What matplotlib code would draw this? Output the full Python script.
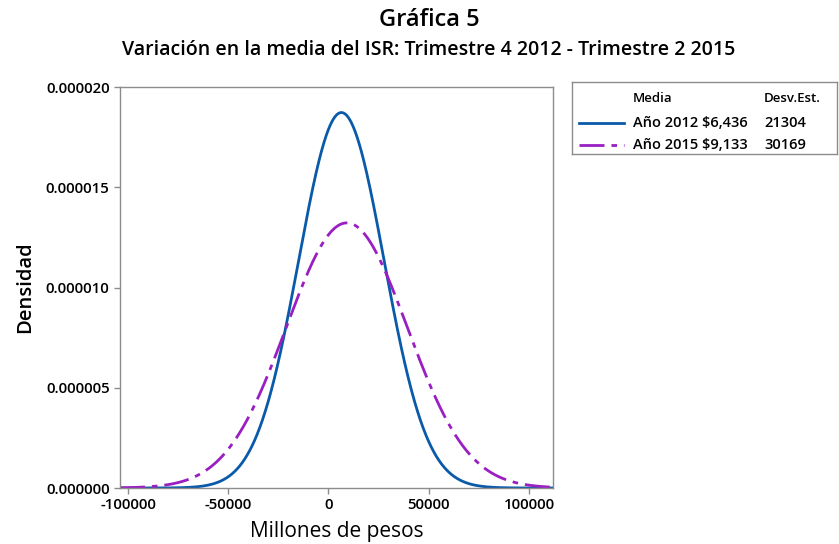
import numpy as np
import matplotlib
matplotlib.use("Agg")
import matplotlib.pyplot as plt
from matplotlib.lines import Line2D

plt.rcParams['font.family'] = ['Open Sans', 'DejaVu Sans']

# Data
series_labels = ["Año 2012", "Año 2015"]
means = [6436, 9133]
std_devs = [21304, 30169]
mean_labels = ["$6,436", "$9,133"]
std_labels = ["21304", "30169"]
colors = ["#0A5AAA", "#9A1FC2"]
x_ticks = [-100000, -50000, 0, 50000, 100000]
y_ticks = [0.0, 0.000005, 0.000010, 0.000015, 0.000020]

fig = plt.figure(figsize=(8.39, 5.44), dpi=100)
ax = fig.add_axes([120/839, 1-488/544, (553-120)/839, (488-87)/544])

x = np.linspace(-104000, 112000, 1200)
styles = [dict(linestyle='-'), dict(linestyle=(0, (9, 2.5, 2, 2.5)))]
for m, s, c, st in zip(means, std_devs, colors, styles):
    y = np.exp(-0.5 * ((x - m) / s) ** 2) / (s * np.sqrt(2 * np.pi))
    ax.plot(x, y, color=c, lw=2.0, **st)

ax.set_xlim(-104000, 112000)
ax.set_ylim(0, 0.00002)
ax.set_xticks(x_ticks)
ax.set_xticklabels([f"{v:d}" for v in x_ticks])
ax.set_yticks(y_ticks)
ax.set_yticklabels([f"{v:.6f}" for v in y_ticks])
for sp in ax.spines.values():
    sp.set_color('#8C8C8C')
    sp.set_linewidth(1.0)
ax.tick_params(axis='both', colors='#8C8C8C', length=4, width=1, labelcolor='black')
ax.tick_params(axis='x', labelsize=10.8)
ax.tick_params(axis='y', labelsize=10.8)
for lbl in ax.get_xticklabels() + ax.get_yticklabels():
    lbl.set_fontweight('semibold')

ax.set_xlabel("Millones de pesos", fontsize=15, labelpad=6)
ax.set_ylabel("Densidad", fontsize=14.5, labelpad=8, fontweight='semibold')

cx = 429 / 839
fig.text(cx, 1 - 20/544, "Gráfica 5", ha='center', va='center',
         fontsize=17, fontweight='semibold')
fig.text(cx, 1 - 50/544,
         "Variación en la media del ISR: Trimestre 4 2012 - Trimestre 2 2015",
         ha='center', va='center', fontsize=14, fontweight='semibold')

# Legend box
lax = fig.add_axes([572/839, 1-154/544, (837-572)/839, (154-82)/544])
lax.set_xlim(0, 265)
lax.set_ylim(72, 0)
lax.set_xticks([])
lax.set_yticks([])
for sp in lax.spines.values():
    sp.set_color('#8C8C8C')
    sp.set_linewidth(1.0)
lax.text(61, 16, "Media", fontsize=9.5, va='center', ha='left', fontweight='semibold')
lax.text(192, 16, "Desv.Est.", fontsize=9.5, va='center', ha='left', fontweight='semibold')
rows_y = [41, 63]
for i in range(2):
    lax.add_line(Line2D([7, 52], [rows_y[i], rows_y[i]], color=colors[i], lw=2.0,
                        **styles[i]))
    lax.text(61, rows_y[i], f"{series_labels[i]} {mean_labels[i]}", fontsize=10.5,
             va='center', ha='left', fontweight='semibold')
    lax.text(192, rows_y[i], std_labels[i], fontsize=10.5, va='center', ha='left',
             fontweight='semibold')

fig.savefig("out.png", dpi=100)
